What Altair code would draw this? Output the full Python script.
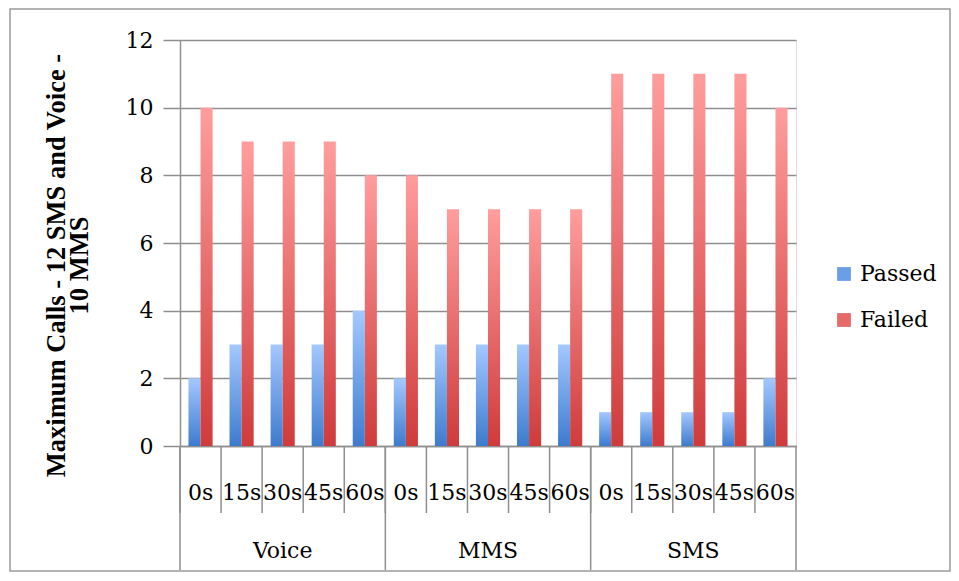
import altair as alt
import pandas as pd

types = ["Voice", "MMS", "SMS"]
delays = ["0s", "15s", "30s", "45s", "60s"]
passed = [2, 3, 3, 3, 4, 2, 3, 3, 3, 3, 1, 1, 1, 1, 2]
failed = [10, 9, 9, 9, 8, 8, 7, 7, 7, 7, 11, 11, 11, 11, 10]
series = ["Passed", "Failed"]

cats = [f"{t}|{d}" for t in types for d in delays]
rows = []
for i, c in enumerate(cats):
    rows.append({"cat": c, "series": "Passed", "value": passed[i]})
    rows.append({"cat": c, "series": "Failed", "value": failed[i]})
df = pd.DataFrame(rows)
cat_df = pd.DataFrame({"cat": cats})
group_start = pd.DataFrame({"cat": [f"{t}|{delays[0]}" for t in types]})
group_end = pd.DataFrame({"cat": [cats[-1]]})
group_mid = pd.DataFrame({"cat": [f"{t}|{delays[2]}" for t in types], "label": types})

FONT = "DejaVu Serif, Liberation Serif, serif"
TFONT = "Liberation Serif, serif"
GREY = "#8f8f8f"
W, H = 616, 406

xscale = alt.Scale(domain=cats, paddingInner=0, paddingOuter=0)
xoff = alt.XOffset("series:N", scale=alt.Scale(domain=series, paddingOuter=0.7, paddingInner=0))
yscale = alt.Scale(domain=[0, 12])

def grad(top, bottom):
    return alt.Gradient(
        gradient="linear",
        stops=[alt.GradientStop(color=top, offset=0), alt.GradientStop(color=bottom, offset=1)],
        x1=0, x2=0, y1=0, y2=1,
    )

xenc = alt.X(
    "cat:N", scale=xscale, sort=cats, title=None,
    axis=alt.Axis(labelExpr="split(datum.label, '|')[1]", ticks=False, domain=True,
                  domainColor=GREY, domainWidth=1.5, labelAngle=0, labelFont=FONT,
                  labelFontSize=22, labelColor="#000", labelPadding=36, grid=False),
)
yenc = alt.Y(
    "value:Q", scale=yscale,
    axis=alt.Axis(values=[0, 2, 4, 6, 8, 10, 12], title=["Maximum Calls - 12 SMS and Voice -", "10 MMS"],
                  titleFont=TFONT, titleFontSize=26.5, titleFontWeight="bold", titleColor="#000",
                  titleAngle=-90, titleX=-124, titleY=225, titleAlign="center", titleBaseline="middle",
                  titleLineHeight=23,
                  labelFont=FONT, labelFontSize=22, labelColor="#000", labelPadding=10,
                  tickSize=17, tickColor=GREY, tickWidth=1.5, domainColor=GREY, domainWidth=1.5,
                  gridColor=GREY, gridWidth=1.5),
)

base = alt.Chart(df)
passed_bars = base.transform_filter(alt.datum.series == "Passed").mark_bar(
    color=grad("#a3c8ff", "#3d7bce")).encode(x=xenc, xOffset=xoff, y=yenc)
failed_bars = base.transform_filter(alt.datum.series == "Failed").mark_bar(
    color=grad("#ff9d9d", "#cf3b3b")).encode(x=xenc, xOffset=xoff, y=yenc)

legend_layer = base.mark_square(opacity=0).encode(
    x=xenc, y=yenc,
    color=alt.Color("series:N", scale=alt.Scale(domain=series, range=["#6a9fe8", "#e66a6a"]),
                    legend=alt.Legend(title=None, orient="none", legendX=653, legendY=223,
                                      symbolType="square", symbolSize=190, symbolOpacity=1,
                                      symbolStrokeWidth=0, labelFont=FONT, labelFontSize=22,
                                      labelColor="#000", rowPadding=24, labelOffset=5, padding=0)),
)

short_rules = alt.Chart(cat_df).mark_rule(color=GREY, strokeWidth=1.5).encode(
    x=alt.X("cat:N", scale=xscale, bandPosition=0), y=alt.value(H), y2=alt.value(H + 67))
long_rules = alt.Chart(group_start).mark_rule(color=GREY, strokeWidth=1.5).encode(
    x=alt.X("cat:N", scale=xscale, bandPosition=0), y=alt.value(H), y2=alt.value(H + 124))
end_rule = alt.Chart(group_end).mark_rule(color=GREY, strokeWidth=1.5).encode(
    x=alt.X("cat:N", scale=xscale, bandPosition=1), y=alt.value(H), y2=alt.value(H + 124))
group_text = alt.Chart(group_mid).mark_text(font=FONT, fontSize=22, color="#000", baseline="middle").encode(
    x=alt.X("cat:N", scale=xscale, bandPosition=0.5), y=alt.value(H + 105), text="label:N")

border = alt.Chart(group_end).mark_rect(fill=None, stroke="#9a9a9a", strokeWidth=1.5).encode(
    x=alt.value(-170), x2=alt.value(770), y=alt.value(-31), y2=alt.value(H + 125))

chart = alt.layer(
    passed_bars, failed_bars, legend_layer, short_rules, long_rules, end_rule, group_text, border
).properties(
    width=W, height=H,
    autosize=alt.AutoSizeParams(type="none"),
    padding={"left": 172, "top": 32, "right": 155, "bottom": 127},
).configure_view(stroke=None).configure(background="white")

chart.save("out.html", embed_options={"renderer": "svg", "actions": False})
